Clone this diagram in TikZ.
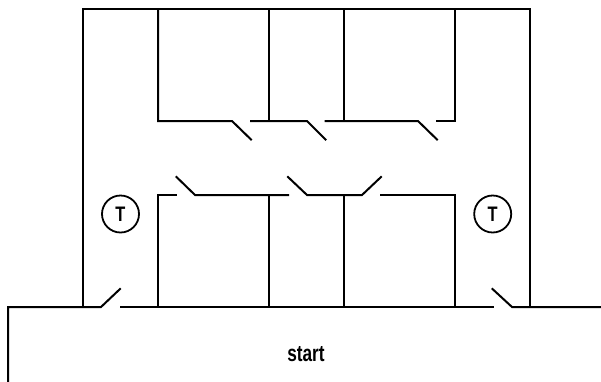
\documentclass[tikz,border=0pt]{standalone}
\usepackage{fontspec}
\setmainfont{Liberation Sans}
\tikzset{
    wire/.style={line width=2pt, line join=miter, line cap=rect},
    relay/.style={draw, circle, line width=1.8pt, minimum size=37pt, inner sep=0pt, font=\fontsize{21}{21}\selectfont\bfseries},
    caption/.style={font=\fontsize{23}{23}\selectfont\bfseries, inner sep=0pt, xscale=0.75}
}
\begin{document}
\begin{tikzpicture}[x=1pt, y=-1pt]
        \useasboundingbox (0,0) rectangle (601,381);
        % Rails and branch points
        \foreach \name/\xpos in {a/83,b/158,c/269,d/344,e/455,f/530} {
            \coordinate (top\name) at (\xpos,9);
            \coordinate (rail\name) at (\xpos,307);
        }
        \coordinate (upc) at (269,121);
        \coordinate (upd) at (344,121);
        \coordinate (upb) at (158,121);
        \coordinate (upe) at (455,121);
        \coordinate (lowb) at (158,195);
        \coordinate (lowc) at (269,195);
        \coordinate (lowd) at (344,195);
        \coordinate (lowe) at (455,195);
        \coordinate (corner) at (8,307);
        \coordinate (leftend) at (8,381);
        \coordinate (rightend) at (601,307);
        \draw[wire] (topa) -- (topf) -- (railf);
        \draw[wire] (topa) -- (raila);
        \draw[wire] (leftend) -- (corner) -- (101,307) coordinate (blmain) -- (120,289) coordinate (bltip);
        \draw[wire] (120.5,307) coordinate (contact) -- (492.5,307) coordinate (brmain);
        \draw[wire] (492.5,289) coordinate (brtip) -- (512,307) coordinate (brhinge) -- (rightend);
        % Upper contacts
        \draw[wire] (topb) -- (upb) -- (232,121) -- (251,139.5);
        \draw[wire] (251,121) -- (307,121) -- (325.5,139.5);
        \draw[wire] (325.5,121) -- (418,121) -- (437,139.5);
        \draw[wire] (437,121) -- (upe) -- (tope);
        \draw[wire] (topc) -- (upc);
        \draw[wire] (topd) -- (upd);
        % Lower contacts
        \draw[wire] (railb) -- (lowb) -- (176,195);
        \draw[wire] (176.5,177) -- (195,195) -- (288,195);
        \draw[wire] (288,177) -- (307,195) -- (362,195) -- (381,177);
        \draw[wire] (381,195) -- (lowe) -- (raile);
        \draw[wire] (lowc) -- (railc);
        \draw[wire] (lowd) -- (raild);
        % Timers
        \node[relay] (timerl) at (120.5,214) {\scalebox{0.78}[1]{T}};
        \node[relay] (timerr) at (492.7,214) {\scalebox{0.78}[1]{T}};
        \node[caption] (start) at (306,354) {start};
    \end{tikzpicture}
\end{document}
